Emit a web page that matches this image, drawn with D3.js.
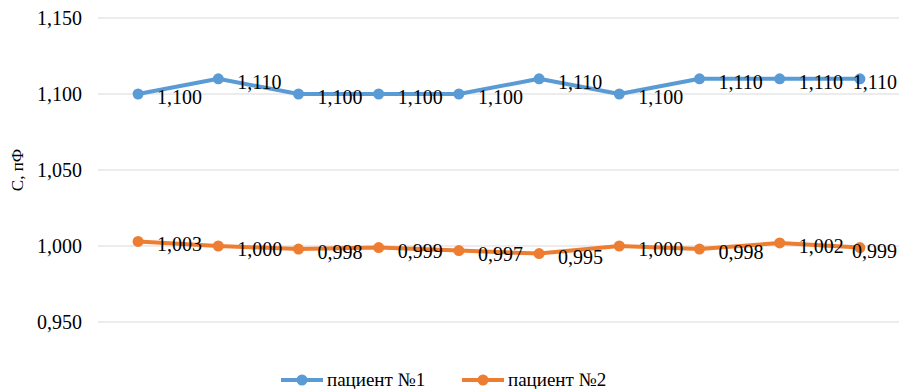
<!DOCTYPE html>
<html>
<head>
    <meta charset="utf-8">
    <title>C, пФ</title>
    <script src="https://d3js.org/d3.v7.min.js"></script>
    <style>
        body { margin: 0; background: #fff; }
    </style>
</head>
<body>
    <script>
        // данные
        var categories = [1, 2, 3, 4, 5, 6, 7, 8, 9, 10];
        var patient1 = [1.100, 1.110, 1.100, 1.100, 1.100, 1.110, 1.100, 1.110, 1.110, 1.110];
        var patient2 = [1.003, 1.000, 0.998, 0.999, 0.997, 0.995, 1.000, 0.998, 1.002, 0.999];
        var seriesNames = ["пациент №1", "пациент №2"];
        var colors = ["#5B9BD5", "#ED7D31"];
        var yTicks = [0.95, 1.00, 1.05, 1.10, 1.15];

        var width = 899, height = 389;
        var serif = "Times New Roman";
        var svg = d3.select("body").append("svg")
            .attr("width", width)
            .attr("height", height);

        var x = d3.scaleBand().domain(categories).range([98, 900]);
        var y = d3.scaleLinear().domain([0.95, 1.15]).range([322, 18]);
        var fmt = function (v) { return d3.format(".3f")(v).replace(".", ","); };

        // сетка
        svg.append("g").selectAll("line")
            .data(yTicks)
            .join("line")
            .attr("x1", 98).attr("x2", 899)
            .attr("y1", d => y(d)).attr("y2", d => y(d))
            .attr("stroke", "#d9d9d9")
            .attr("stroke-width", 1);

        // ось Y (подписи делений)
        svg.append("g").selectAll("text")
            .data(yTicks)
            .join("text")
            .attr("x", 82)
            .attr("y", d => y(d) + 7)
            .attr("text-anchor", "end")
            .style("font-family", serif)
            .style("font-size", "20px")
            .text(d => fmt(d));

        svg.append("text")
            .attr("transform", "translate(23,170) rotate(-90)")
            .attr("text-anchor", "middle")
            .style("font-family", serif)
            .style("font-size", "17px")
            .text("C, пФ");

        var series = [patient1, patient2];
        var cx = (d, i) => x(categories[i]) + x.bandwidth() / 2;
        var line = d3.line().x(cx).y(d => y(d));

        series.forEach(function (vals, k) {
            var g = svg.append("g");
            g.append("path")
                .datum(vals)
                .attr("d", line)
                .attr("fill", "none")
                .attr("stroke", colors[k])
                .attr("stroke-width", 4)
                .attr("stroke-linejoin", "round");

            g.selectAll("circle")
                .data(vals)
                .join("circle")
                .attr("cx", cx)
                .attr("cy", d => y(d))
                .attr("r", 5.5)
                .attr("fill", colors[k]);

            // подписи данных; последняя прижата к правому краю
            g.selectAll("text")
                .data(vals)
                .join("text")
                .attr("x", (d, i) => i === vals.length - 1 ? width - 2 : cx(d, i) + 19)
                .attr("y", d => y(d) + 10)
                .attr("text-anchor", (d, i) => i === vals.length - 1 ? "end" : "start")
                .style("font-family", serif)
                .style("font-size", "20px")
                .text(d => fmt(d));
        });

        // легенда
        var legend = svg.append("g").attr("transform", "translate(281,380)");
        var item = legend.selectAll("g")
            .data(seriesNames)
            .join("g")
            .attr("transform", (d, i) => "translate(" + (i * 181) + ",0)");
        item.append("line")
            .attr("x1", 0).attr("x2", 42)
            .attr("stroke", (d, i) => colors[i])
            .attr("stroke-width", 4);
        item.append("circle")
            .attr("cx", 21).attr("r", 5.5)
            .attr("fill", (d, i) => colors[i]);
        item.append("text")
            .attr("x", 46).attr("y", 6)
            .style("font-family", serif)
            .style("font-size", "19px")
            .text(d => d);
    </script>
</body>
</html>
